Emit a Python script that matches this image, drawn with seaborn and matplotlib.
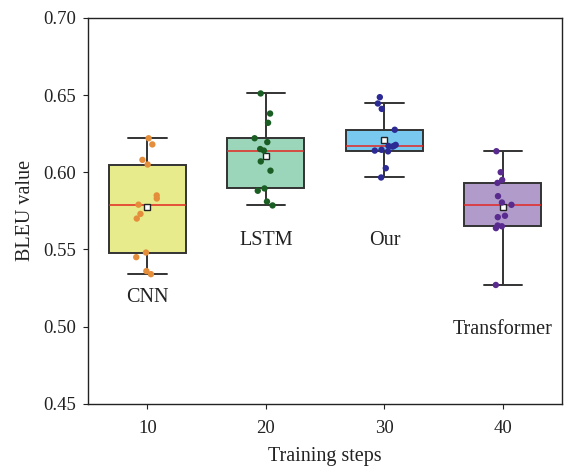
import numpy as np
import pandas as pd
import matplotlib
matplotlib.use("Agg")
import matplotlib.pyplot as plt
import seaborn as sns

# values
steps = ["10", "20", "30", "40"]
models = ["CNN", "LSTM", "Our", "Transformer"]

cnn = [0.622, 0.618, 0.608, 0.605, 0.585, 0.583, 0.579, 0.573, 0.570, 0.548, 0.545, 0.536, 0.534]
lstm = [0.651, 0.638, 0.632, 0.622, 0.6195, 0.615, 0.614, 0.607, 0.601, 0.5895, 0.588, 0.581, 0.5785]
our = [0.6486, 0.6445, 0.641, 0.6275, 0.6177, 0.617, 0.617, 0.6166, 0.6145, 0.614, 0.6135, 0.6026, 0.5966]
transformer = [0.6136, 0.600, 0.595, 0.5931, 0.5845, 0.5804, 0.5789, 0.5718, 0.5709, 0.5655, 0.565, 0.5638, 0.527]

label_y = [0.519, 0.556, 0.556, 0.498]

box_colors = ["#e8eb8c", "#9bd6bb", "#79c8ef", "#b09bcb"]
dot_colors = ["#e48e3c", "#1b5e24", "#2c2a94", "#5a2b8e"]

rows = []
for step, vals in zip(steps, [cnn, lstm, our, transformer]):
    for v in vals:
        rows.append({"step": step, "bleu": v})
df = pd.DataFrame(rows)

sns.set_style("ticks")
plt.rcParams["font.family"] = ["Liberation Serif", "DejaVu Serif"]

fig = plt.figure(figsize=(5.65, 4.68), dpi=100)
ax = fig.add_axes([0.156, 0.137, 0.839, 0.825])

sns.boxplot(data=df, x="step", y="bleu", hue="step", order=steps,
            palette=dict(zip(steps, box_colors)), saturation=1, legend=False,
            width=0.65, showfliers=False, showmeans=True, linewidth=1.4,
            linecolor="#333333",
            medianprops={"color": "#e32622", "linewidth": 1.1},
            meanprops={"marker": "s", "markerfacecolor": "white",
                       "markeredgecolor": "#222222", "markersize": 4.5},
            ax=ax)

np.random.seed(3)
sns.stripplot(data=df, x="step", y="bleu", hue="step", order=steps,
              palette=dict(zip(steps, dot_colors)), legend=False,
              jitter=0.1, size=4.6, zorder=5, ax=ax)

for i, (name, y) in enumerate(zip(models, label_y)):
    ax.text(i, y, name, ha="center", va="center", fontsize=14.5, color="#222222")

ax.set_ylim(0.45, 0.70)
ax.set_xlim(-0.5, 3.5)
ax.set_yticks([0.45, 0.50, 0.55, 0.60, 0.65, 0.70])
ax.set_yticklabels(["0.45", "0.50", "0.55", "0.60", "0.65", "0.70"])
ax.set_xlabel("Training steps", fontsize=14.5, color="#222222", labelpad=7)
ax.set_ylabel("BLEU value", fontsize=14.5, color="#222222", labelpad=6)
ax.tick_params(labelsize=13.5, colors="#222222", length=3.5, pad=5)
ax.tick_params(axis="x", pad=8)
for s in ax.spines.values():
    s.set_visible(True)
    s.set_color("#222222")
    s.set_linewidth(1.0)

fig.savefig("out.png", dpi=100)
